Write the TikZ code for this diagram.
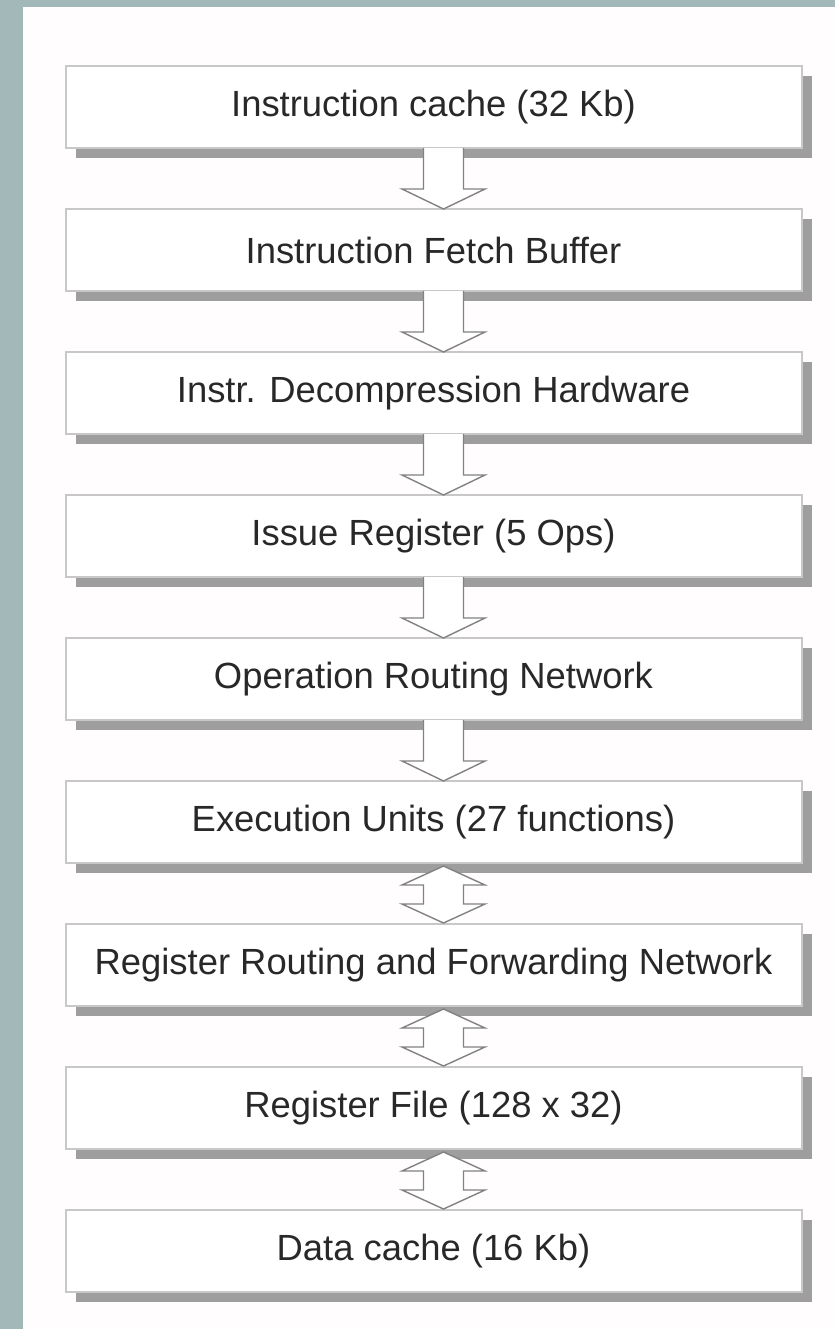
\documentclass[tikz,border=0pt]{standalone}
\usepackage{fontspec}
\setmainfont{Liberation Sans}
\usetikzlibrary{positioning,calc,shadows}
\definecolor{frameTeal}{RGB}{163,185,185}
\definecolor{paper}{RGB}{255,253,253}
\definecolor{boxGray}{RGB}{200,200,200}
\definecolor{shadowGray}{RGB}{158,158,158}
\definecolor{arrowGray}{RGB}{130,130,130}
\definecolor{textGray}{RGB}{40,40,40}

% hollow block arrow, box #1 down to box #2
\newcommand{\downblock}[2]{%
  \draw[blockarrow] let \p1=(#1.south), \p2=(#2.north) in
    (\x1-5pt,\y1) -- (\x1-5pt,\y2+10pt) -- (\x1-15.75pt,\y2+10pt) -- (\x1+5pt,\y2)
    -- (\x1+25.75pt,\y2+10pt) -- (\x1+15pt,\y2+10pt) -- (\x1+15pt,\y1);}
% hollow two-way block arrow between #1 and #2
\newcommand{\bothblock}[2]{%
  \draw[blockarrow] let \p1=(#1.south), \p2=(#2.north) in
    (\x1+5pt,\y1-1.5pt) -- (\x1+25.75pt,\y1-11pt) -- (\x1+15pt,\y1-11pt)
    -- (\x1+15pt,\y2+10pt) -- (\x1+25.75pt,\y2+10pt) -- (\x1+5pt,\y2+0.5pt)
    -- (\x1-15.75pt,\y2+10pt) -- (\x1-5pt,\y2+10pt) -- (\x1-5pt,\y1-11pt)
    -- (\x1-15.75pt,\y1-11pt) -- cycle;}

\begin{document}
\begin{tikzpicture}[x=0.5pt, y=-0.5pt,
    unitbox/.style={draw=boxGray, line width=1pt, fill=white, outer sep=0pt,
        minimum width=368pt, minimum height=41pt, text=textGray,
        font=\fontsize{18.2}{22}\selectfont,
        drop shadow={shadow xshift=5pt, shadow yshift=-5pt, fill=shadowGray, opacity=1}},
    blockarrow/.style={draw=arrowGray, fill=white, line width=0.7pt, line join=miter}]
    \useasboundingbox (0,0) rectangle (835,1329);
    \fill[frameTeal] (0,0) rectangle (835,1329);
    \fill[paper] (23,7) rectangle (835,1329);

    \node[unitbox] (icache) at (433.5,107) {Instruction cache (32 Kb)};
    \node[unitbox, below=30.5pt of icache] (fetch) {Instruction Fetch Buffer};
    \node[unitbox, below=30.5pt of fetch] (decomp) {Instr. Decompression Hardware};
    \node[unitbox, below=30.5pt of decomp] (issue) {Issue Register (5 Ops)};
    \node[unitbox, below=30.5pt of issue] (oprout) {Operation Routing Network};
    \node[unitbox, below=30.5pt of oprout] (exec) {Execution Units (27 functions)};
    \node[unitbox, below=30.5pt of exec] (regrout) {Register Routing and Forwarding Network};
    \node[unitbox, below=30.5pt of regrout] (regfile) {Register File (128 x 32)};
    \node[unitbox, below=30.5pt of regfile] (dcache) {Data cache (16 Kb)};

    \downblock{icache}{fetch}
    \downblock{fetch}{decomp}
    \downblock{decomp}{issue}
    \downblock{issue}{oprout}
    \downblock{oprout}{exec}
    \bothblock{exec}{regrout}
    \bothblock{regrout}{regfile}
    \bothblock{regfile}{dcache}
\end{tikzpicture}
\end{document}
